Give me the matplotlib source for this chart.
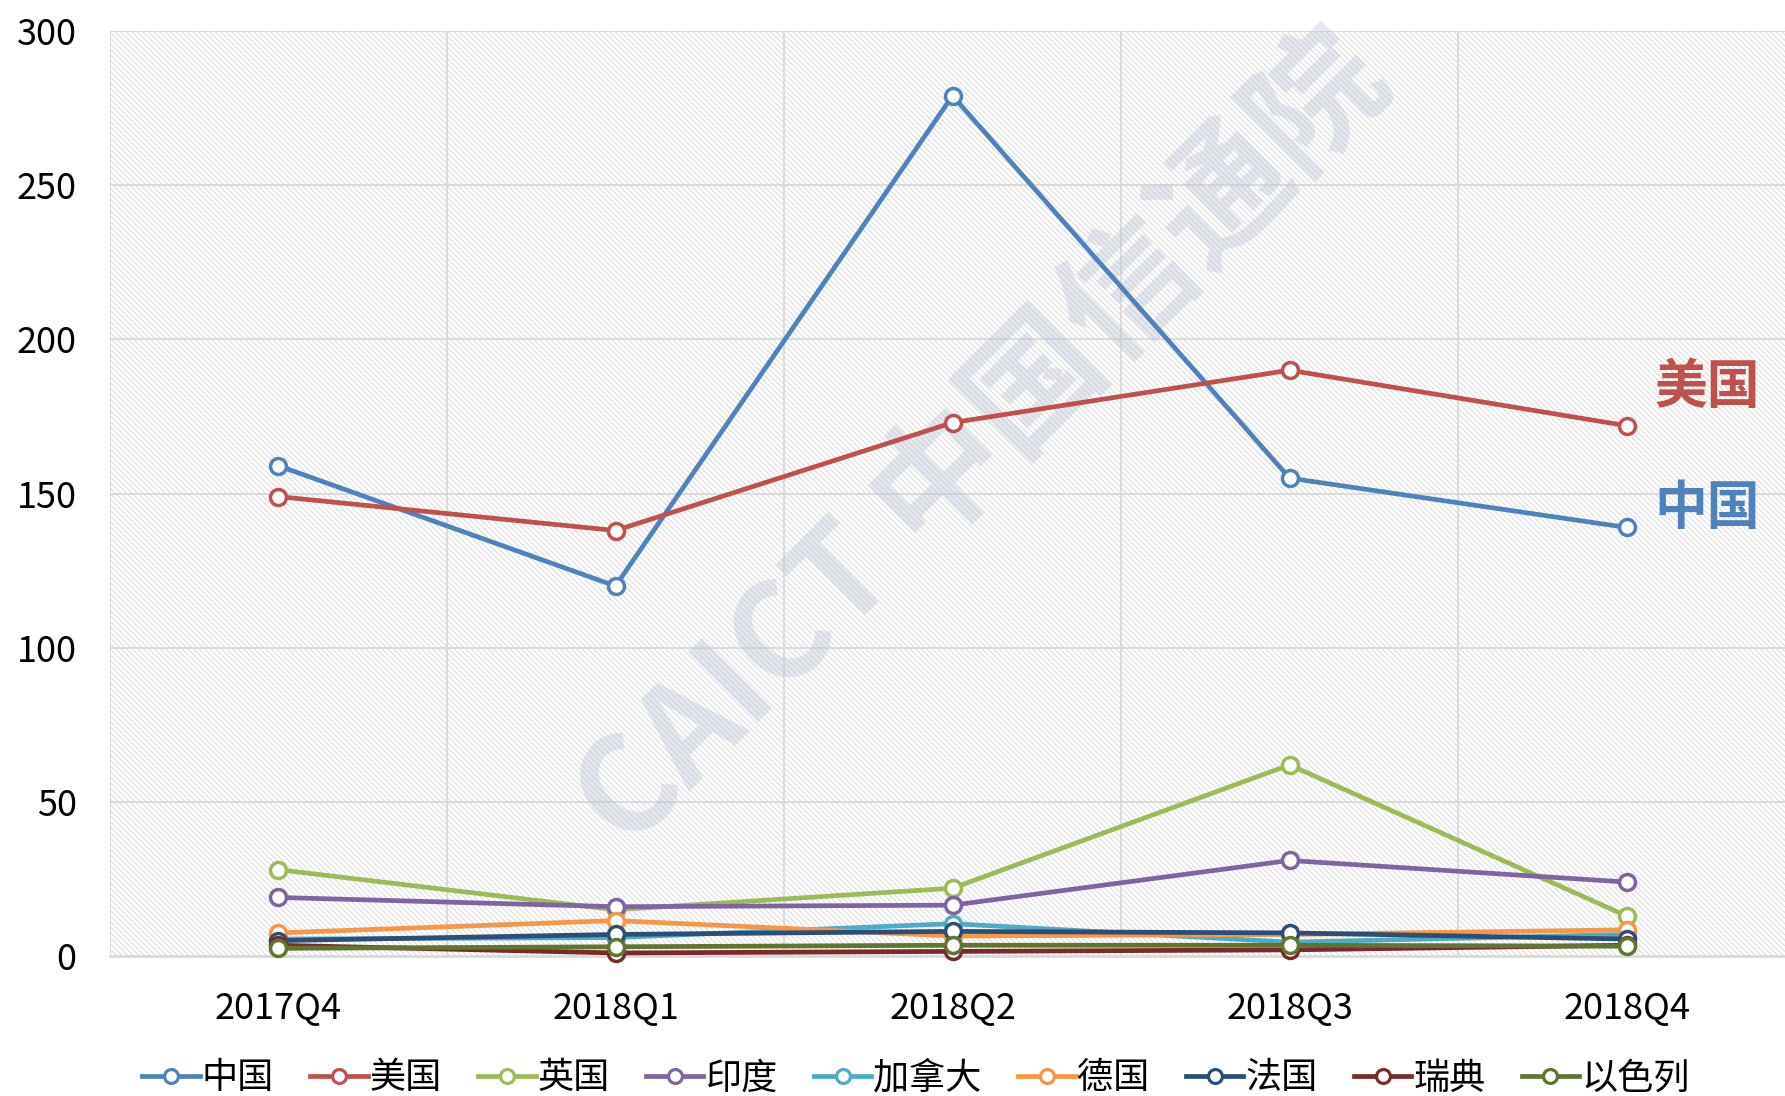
import matplotlib
matplotlib.use("Agg")
import matplotlib.pyplot as plt
from matplotlib.patches import Rectangle
from matplotlib.lines import Line2D

plt.rcParams['font.family'] = ['Noto Sans CJK SC', 'DejaVu Sans']
plt.rcParams['hatch.linewidth'] = 0.9

categories = ["2017Q4", "2018Q1", "2018Q2", "2018Q3", "2018Q4"]
series_names = ["中国", "美国", "英国", "印度", "加拿大", "德国", "法国", "瑞典", "以色列"]
china = [159, 120, 279, 155, 139]
usa = [149, 138, 173, 190, 172]
uk = [28, 15, 22, 62, 13]
india = [19, 16, 16.5, 31, 24]
canada = [5.5, 6, 10.5, 4.5, 7]
germany = [7.5, 11.5, 6.5, 7, 8.5]
france = [5, 7, 8, 7.5, 5.5]
sweden = [3.5, 1, 1.5, 2, 3.5]
israel = [2.5, 3, 3.5, 3.5, 3.2]
yticks = [0, 50, 100, 150, 200, 250, 300]

values = [china, usa, uk, india, canada, germany, france, sweden, israel]
colors = ["#4F81BD", "#C0504D", "#9BBB59", "#8064A2", "#4BACC6",
          "#F79646", "#2C4D75", "#772C2A", "#5F7530"]

fig = plt.figure(figsize=(17.85, 10.96), dpi=100)
ax = fig.add_axes([0.0616, 0.1277, 1 - 0.0616, 0.844])
ax.set_facecolor("white")

# hatched background
bg = Rectangle((0, 0), 1, 1, transform=ax.transAxes, facecolor="white",
               edgecolor="#e0e0e0", hatch="\\\\\\\\\\\\", linewidth=0, zorder=0)
ax.add_patch(bg)

x = list(range(len(categories)))
ax.set_xlim(-0.5, 4.47)
ax.set_ylim(0, 300)

# gridlines
for yv in yticks[1:]:
    ax.axhline(yv, color="#d9d9d9", lw=1.3, zorder=1)
for xb in [-0.5, 0.5, 1.5, 2.5, 3.5]:
    ax.axvline(xb, color="#d9d9d9", lw=1.3, zorder=1)

# watermark
ax.text(0.522, 0.556, "CAICT 中国信通院", transform=ax.transAxes,
        rotation=45, ha="center", va="center", fontsize=96,
        fontweight="bold", color="#bcc2d6", alpha=0.38, zorder=1.5)

for name, vals, c in zip(series_names, values, colors):
    ax.plot(x, vals, color=c, lw=3.4, marker="o", markersize=11.5,
            markerfacecolor="white", markeredgecolor=c, markeredgewidth=2.5,
            label=name, zorder=3, clip_on=False)

for s in ["top", "right", "left"]:
    ax.spines[s].set_visible(False)
ax.spines["bottom"].set_color("#d9d9d9")
ax.spines["bottom"].set_linewidth(2)

ax.set_xticks(x)
ax.set_xticklabels(categories)
ax.set_yticks(yticks)
ax.tick_params(axis="both", length=0, labelsize=26, colors="black")
ax.tick_params(axis="y", pad=24)
ax.tick_params(axis="x", pad=25)

# end annotations
ax.text(4.24, 184.5, "美国", color=colors[1], fontsize=38,
        fontweight="heavy", ha="center", va="center", zorder=4)
ax.text(4.24, 145, "中国", color=colors[0], fontsize=38,
        fontweight="heavy", ha="center", va="center", zorder=4)

handles = [Line2D([0], [0], color=c, lw=3.4, marker="o", markersize=10,
                  markerfacecolor="white", markeredgecolor=c, markeredgewidth=2.3)
           for c in colors]
fig.legend(handles, series_names, loc="center", bbox_to_anchor=(0.513, 0.016),
           ncol=9, frameon=False, fontsize=26, handlelength=1.6,
           handletextpad=0.05, columnspacing=1.0)

fig.savefig("out.png", dpi=100)
